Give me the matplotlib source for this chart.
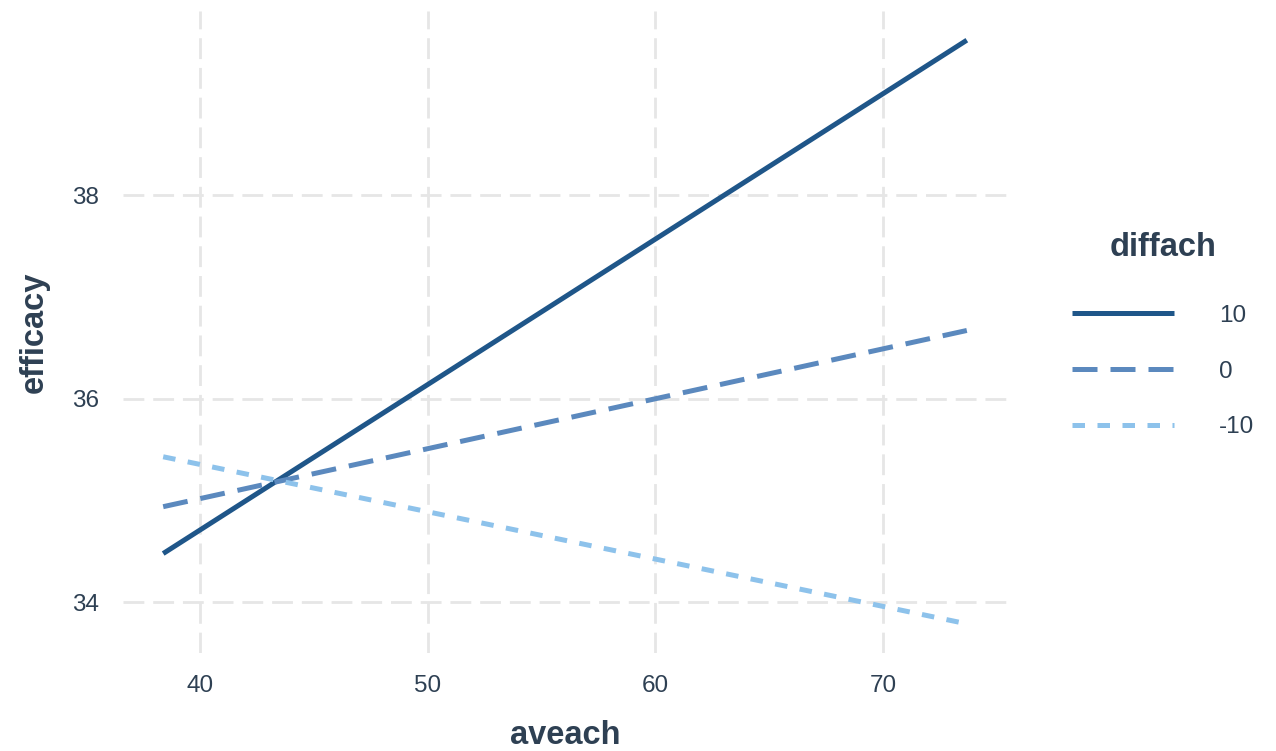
import matplotlib
matplotlib.use("Agg")
import matplotlib.pyplot as plt

# fitted efficacy at the two ends of the aveach range, one line per diffach level
aveach = [38.38, 73.68]
diffach_levels = ["10", "0", "-10"]
efficacy_hi = [34.48, 39.52]
efficacy_mid = [34.94, 36.67]
efficacy_lo = [35.43, 33.79]

line_colors = ["#1F5689", "#5B89BE", "#8DC2EB"]
line_dashes = [None, (5.0, 2.6), (2.5, 2.5)]

plt.rcParams["font.family"] = ["Liberation Sans", "DejaVu Sans"]
text_col = "#2E4053"
grid_col = "#E6E6E6"

fig = plt.figure(figsize=(12.76, 7.51), dpi=100)
ax = fig.add_axes([123 / 1276, 1 - 653 / 751, 884 / 1276, 642 / 751])

series = [efficacy_hi, efficacy_mid, efficacy_lo]
for vals, lab, col, dash in zip(series, diffach_levels, line_colors, line_dashes):
    ln, = ax.plot(aveach, vals, color=col, lw=3.6, label=lab, solid_capstyle="butt")
    if dash is not None:
        ln.set_dashes(dash)
        ln.set_dash_capstyle("butt")

# ggplot-style 5% expansion around the data
xr = aveach[1] - aveach[0]
ax.set_xlim(aveach[0] - 0.05 * xr, aveach[1] + 0.05 * xr)
ally = efficacy_hi + efficacy_mid + efficacy_lo
yr = max(ally) - min(ally)
ax.set_ylim(min(ally) - 0.05 * yr, max(ally) + 0.05 * yr)

ax.set_xticks([40, 50, 60, 70])
ax.set_yticks([34, 36, 38])
ax.grid(True, color=grid_col, lw=2.0, dashes=(7.5, 3.2))
ax.set_axisbelow(True)
for s in ax.spines.values():
    s.set_visible(False)
ax.tick_params(axis="both", length=0, labelsize=17.5, labelcolor=text_col)
ax.tick_params(axis="x", pad=16)
ax.tick_params(axis="y", pad=17)

ax.set_xlabel("aveach", fontsize=23.5, fontweight="bold", color=text_col)
ax.set_ylabel("efficacy", fontsize=23.5, fontweight="bold", color=text_col)
ax.xaxis.set_label_coords(0.5, -0.105)
ax.yaxis.set_label_coords(-0.083, 0.5)

leg = ax.legend(title="diffach", loc="upper left", bbox_to_anchor=(1060 / 1276, 1 - 220 / 751),
                bbox_transform=fig.transFigure, frameon=False, fontsize=17.5,
                title_fontproperties={"size": 23.5, "weight": "bold"},
                handlelength=4.2, handletextpad=1.85, labelspacing=1.39, borderpad=0)
leg.get_title().set_color(text_col)
leg._legend_box.sep = 30
for t in leg.get_texts():
    t.set_color(text_col)

fig.savefig("out.png", dpi=100)
